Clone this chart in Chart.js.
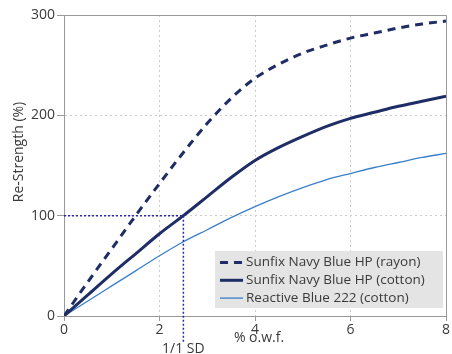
<!DOCTYPE html>
<html>
<head>
<meta charset="utf-8">
<script src="https://cdn.jsdelivr.net/npm/chart.js@4"></script>
<style>
  body { margin: 0; background: #fff; }
  canvas { display: block; }
</style>
</head>
<body>
<canvas id="chart" width="452" height="354"></canvas>
<script>
// % o.w.f. (x) values
const owf = [0, 0.5, 1, 1.5, 2, 2.5, 3, 3.5, 4, 4.5, 5, 5.5, 6, 6.5, 7, 7.5, 8];
// Re-Strength (%)
const sunfixRayon  = [0, 34, 67, 100, 132, 163, 192, 217, 237, 251, 262, 270, 277, 282, 287, 291, 294];
const sunfixCotton = [0, 21, 42, 62, 82, 100, 119, 138, 155, 168, 179, 189, 197, 203, 209, 214, 219];
const reactive222  = [0, 15, 30, 45, 60, 74, 86, 98, 109, 119, 128, 136, 142, 148, 153, 158, 162];
const seriesNames = ['Sunfix Navy Blue HP (rayon)', 'Sunfix Navy Blue HP (cotton)', 'Reactive Blue 222 (cotton)'];
// 1/1 standard depth marker
const sdX = 2.5;
const sdY = 100;

const FONT = '"Open Sans", "Noto Sans", sans-serif';
const TEXT = '#3a3a3a';
const NAVY = '#1f2d66';
const LIGHT = '#3a7fcb';

const pts = (ys) => owf.map((x, i) => ({ x: x, y: ys[i] }));

// top/right frame, 1/1 SD guides, axis titles and legend box
const extras = {
    id: 'extras',
    beforeDatasetsDraw(chart) {
        const { ctx, chartArea: a } = chart;
        ctx.save();
        ctx.strokeStyle = '#999';
        ctx.lineWidth = 1;
        ctx.beginPath();
        ctx.moveTo(a.left, a.top + 0.5);
        ctx.lineTo(a.right + 0.5, a.top + 0.5);
        ctx.lineTo(a.right + 0.5, a.bottom);
        ctx.stroke();
        ctx.restore();
    },
    afterDatasetsDraw(chart) {
        const { ctx, chartArea: a, scales } = chart;
        const px = scales.x.getPixelForValue(sdX);
        const py = scales.y.getPixelForValue(sdY);
        ctx.save();
        ctx.strokeStyle = '#2a2ab0';
        ctx.lineWidth = 1.5;
        ctx.setLineDash([2, 2]);
        ctx.beginPath();
        ctx.moveTo(scales.x.getPixelForValue(0), py);
        ctx.lineTo(px, py);
        ctx.moveTo(px, py);
        ctx.lineTo(px, a.bottom + 27);
        ctx.stroke();
        ctx.setLineDash([]);

        ctx.fillStyle = TEXT;
        ctx.font = '14px ' + FONT;
        ctx.textAlign = 'center';
        ctx.textBaseline = 'top';
        ctx.fillText('1/1 SD', px, a.bottom + 26);
        ctx.fillText('% o.w.f.', 259, a.bottom + 15);

        ctx.translate(19, 152);
        ctx.rotate(-Math.PI / 2);
        ctx.textBaseline = 'middle';
        ctx.fillText('Re-Strength (%)', 0, 0);
        ctx.restore();
    },
    afterDraw(chart) {
        const { ctx, chartArea: a } = chart;
        const box = { l: 215, t: a.bottom - 65, r: a.right - 3, b: a.bottom - 8 };
        ctx.save();
        ctx.fillStyle = '#e4e4e4';
        ctx.fillRect(box.l, box.t, box.r - box.l, box.b - box.t);
        ctx.font = '13.5px ' + FONT;
        ctx.textBaseline = 'middle';
        ctx.textAlign = 'left';
        chart.data.datasets.forEach((ds, i) => {
            const y = box.t + 11.5 + i * 17.8;
            ctx.strokeStyle = ds.borderColor;
            ctx.lineWidth = ds.borderWidth;
            ctx.setLineDash(ds.borderDash || []);
            ctx.beginPath();
            ctx.moveTo(box.l + 5, y);
            ctx.lineTo(box.l + 28, y);
            ctx.stroke();
            ctx.setLineDash([]);
            ctx.fillStyle = TEXT;
            ctx.fillText(ds.label, box.l + 31, y);
        });
        ctx.restore();
    }
};

new Chart(document.getElementById('chart'), {
    type: 'line',
    data: {
        datasets: [
            { label: seriesNames[0], data: pts(sunfixRayon), borderColor: NAVY, borderWidth: 3, borderDash: [8, 6] },
            { label: seriesNames[1], data: pts(sunfixCotton), borderColor: NAVY, borderWidth: 3 },
            { label: seriesNames[2], data: pts(reactive222), borderColor: LIGHT, borderWidth: 1.3 }
        ]
    },
    options: {
        responsive: false,
        animation: false,
        layout: { padding: { top: 15, right: 6, left: 0, bottom: 0 } },
        elements: {
            point: { radius: 0 },
            line: { cubicInterpolationMode: 'monotone', fill: false }
        },
        plugins: { legend: { display: false }, tooltip: { enabled: false } },
        scales: {
            x: {
                type: 'linear',
                min: 0, max: 8,
                afterFit: (s) => { s.height = 38; },
                ticks: { stepSize: 2, color: TEXT, font: { family: FONT, size: 14 }, padding: 1, maxRotation: 0 },
                grid: { color: '#cccccc', tickColor: '#999', tickLength: 5, tickBorderDash: [] },
                border: { color: '#999', dash: [2, 3] }
            },
            y: {
                min: 0, max: 300,
                afterFit: (s) => { s.width = 64; },
                ticks: { stepSize: 100, color: TEXT, font: { family: FONT, size: 14 }, padding: 2 },
                grid: { color: '#cccccc', tickColor: '#999', tickLength: 7, tickBorderDash: [] },
                border: { color: '#999', dash: [2, 3] }
            }
        }
    },
    plugins: [extras]
});
</script>
</body>
</html>
